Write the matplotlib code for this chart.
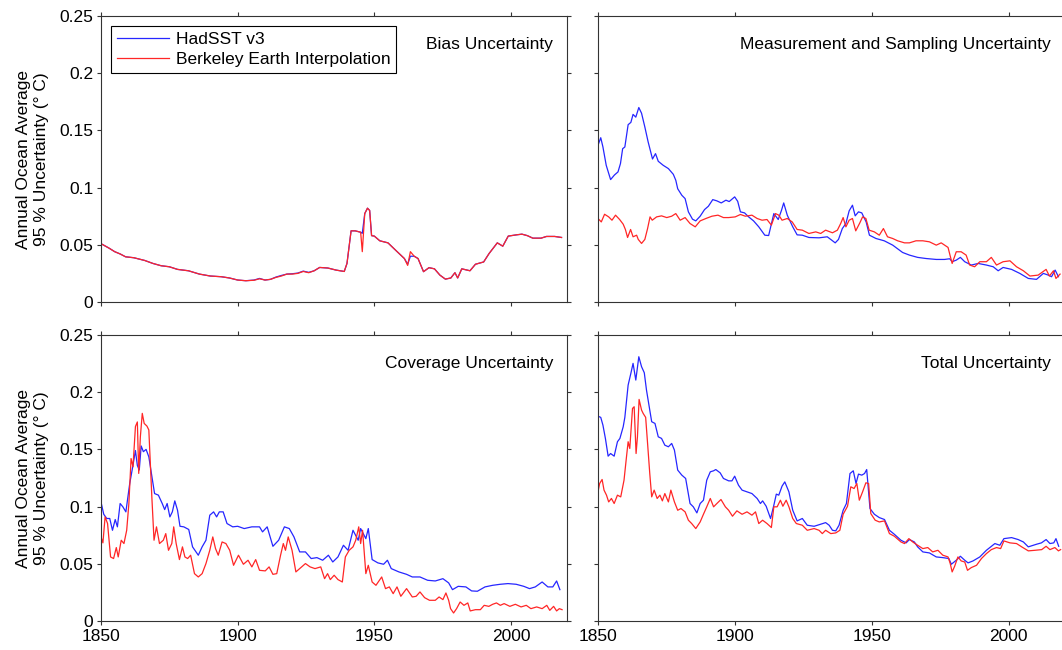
import matplotlib
matplotlib.use("Agg")
import matplotlib.pyplot as plt

plt.rcParams['font.family'] = ['Liberation Sans', 'DejaVu Sans']

# ---- Bias uncertainty (both series almost identical) ----
bias_years = [1850, 1853, 1855, 1857, 1859, 1862, 1866, 1869, 1872, 1875, 1878, 1882, 1886,
              1890, 1894, 1897, 1900, 1903, 1906, 1908, 1910, 1912, 1914, 1916, 1918, 1920,
              1922, 1924, 1926, 1928, 1930, 1933, 1936, 1939, 1940, 1941.5, 1943, 1945,
              1945.6, 1946.5, 1947.5, 1948.3, 1949, 1950, 1952, 1955, 1958, 1961, 1962.2,
              1963.2, 1964.6, 1966, 1968, 1970, 1972, 1974, 1976, 1978, 1979.5, 1980.5,
              1982, 1985, 1987, 1990, 1992, 1995, 1997, 1999, 2002, 2004, 2006, 2008,
              2011, 2013, 2016, 2018.5]
bias_had = [0.051, 0.047, 0.044, 0.042, 0.0395, 0.0387, 0.0363, 0.0337, 0.0317, 0.0308,
            0.0285, 0.0273, 0.0244, 0.0227, 0.0221, 0.021, 0.0192, 0.0186, 0.0192, 0.0206,
            0.0192, 0.0198, 0.0218, 0.0232, 0.0244, 0.0247, 0.0253, 0.0270, 0.0259, 0.0273,
            0.0302, 0.0297, 0.0279, 0.0267, 0.0337, 0.0622, 0.0622, 0.061, 0.0600, 0.0773,
            0.082, 0.080, 0.058, 0.0576, 0.0535, 0.0517, 0.0448, 0.038, 0.033, 0.040, 0.040,
            0.038, 0.0265, 0.030, 0.029, 0.0235, 0.020, 0.021, 0.0256, 0.021, 0.029, 0.0273,
            0.033, 0.035, 0.0424, 0.0517, 0.0488, 0.0576, 0.0587, 0.0593, 0.058, 0.0558,
            0.0558, 0.0573, 0.0573, 0.0564]
bias_be = [0.051, 0.047, 0.044, 0.042, 0.0395, 0.0387, 0.0363, 0.0337, 0.0317, 0.0308,
           0.0285, 0.0273, 0.0244, 0.0227, 0.0221, 0.021, 0.0192, 0.0186, 0.0190, 0.0203,
           0.0192, 0.0198, 0.0215, 0.0227, 0.0244, 0.0244, 0.025, 0.0267, 0.0256, 0.0273,
           0.0302, 0.0297, 0.0279, 0.0267, 0.0337, 0.0622, 0.0622, 0.061, 0.044, 0.0773,
           0.082, 0.080, 0.058, 0.0576, 0.0535, 0.0517, 0.0448, 0.038, 0.032, 0.044, 0.040,
           0.038, 0.0265, 0.030, 0.029, 0.0235, 0.020, 0.021, 0.0256, 0.021, 0.029, 0.0273,
           0.033, 0.035, 0.0424, 0.0517, 0.0488, 0.0576, 0.0587, 0.0593, 0.058, 0.0558,
           0.0558, 0.0573, 0.0573, 0.0564]

# ---- Measurement and sampling uncertainty ----
meas_had_years = [1850, 1851, 1851.8, 1853, 1854.6, 1856, 1857.3, 1858.2, 1859, 1859.8, 1861,
                  1862, 1862.8, 1863.8, 1864.9, 1865.9, 1867.1, 1868.3, 1869.9, 1871, 1872,
                  1873.8, 1875.7, 1877.5, 1878.4, 1879.1, 1880.6, 1881.8, 1883, 1884.5, 1885.7,
                  1887.3, 1888.9, 1890.3, 1891.9, 1893.4, 1895, 1896.7, 1897.9, 1899.9, 1901,
                  1902, 1903.5, 1905, 1906.8, 1908.7, 1910.9, 1912.3, 1914.2, 1915.8, 1917,
                  1917.8, 1919.1, 1921.1, 1922.7, 1924.6, 1927, 1930.7, 1933.7, 1935.3, 1936.6,
                  1937.8, 1939.2, 1940.5, 1941.7, 1942.9, 1943.9, 1945.1, 1946.3, 1947.9,
                  1949.1, 1951.5, 1954.5, 1957.6, 1961.2, 1963.7, 1966.7, 1969.8, 1973.5,
                  1976.5, 1978.4, 1979.3, 1980.8, 1982.3, 1983.9, 1986.3, 1988.8, 1991.8,
                  1994.3, 1996.1, 1997.9, 2001, 2004, 2007.1, 2010.1, 2012.6, 2014.4, 2015.6,
                  2016.9, 2018.1]
meas_had = [0.137, 0.1436, 0.1355, 0.1195, 0.107, 0.111, 0.1137, 0.121, 0.134, 0.1355, 0.155,
            0.157, 0.164, 0.1616, 0.170, 0.165, 0.153, 0.140, 0.125, 0.1297, 0.123, 0.1195,
            0.1166, 0.1116, 0.1064, 0.099, 0.0933, 0.0904, 0.0788, 0.0724, 0.0709, 0.075,
            0.0808, 0.0837, 0.0895, 0.0884, 0.0866, 0.089, 0.0878, 0.0919, 0.088, 0.0788,
            0.0779, 0.0744, 0.0709, 0.0657, 0.0584, 0.0581, 0.0773, 0.0721, 0.0802, 0.0866,
            0.0759, 0.0657, 0.0587, 0.0584, 0.0564, 0.0561, 0.057, 0.0541, 0.0517, 0.0547,
            0.0642, 0.0686, 0.0797, 0.0846, 0.0753, 0.0788, 0.0779, 0.070, 0.0584, 0.0555,
            0.0535, 0.0497, 0.0433, 0.041, 0.039, 0.038, 0.0372, 0.0372, 0.0378, 0.0352,
            0.0366, 0.039, 0.0352, 0.0323, 0.0337, 0.0323, 0.0308, 0.0273, 0.0302, 0.0285,
            0.025, 0.0206, 0.0198, 0.025, 0.0235, 0.0221, 0.0279, 0.0221]
meas_be_years = [1850, 1851.2, 1852.4, 1853.9, 1855.1, 1856.4, 1857.9, 1859.2, 1860, 1860.8,
                 1861.9, 1862.8, 1864.1, 1864.7, 1865.9, 1867.1, 1868.1, 1869, 1869.8, 1871.4,
                 1873.2, 1875.1, 1876.9, 1878.4, 1880, 1881.8, 1883.6, 1885.5, 1887.3, 1889.4,
                 1891.6, 1893.8, 1895.8, 1897.7, 1900.1, 1902, 1903.8, 1906.2, 1908.1, 1909.9,
                 1911.7, 1913.3, 1914.8, 1916, 1917.2, 1919.1, 1920.9, 1922.7, 1924.6, 1927,
                 1929.5, 1931.3, 1933.1, 1935.6, 1937.4, 1938.6, 1939.5, 1940.5, 1941.7,
                 1942.9, 1944.1, 1945.6, 1946.6, 1947.8, 1949, 1950.9, 1952.7, 1954.2, 1955.7,
                 1957.6, 1959.4, 1961.9, 1963.7, 1966.1, 1968.6, 1971, 1973.5, 1975.3, 1977.8,
                 1978.6, 1979.3, 1980.8, 1982.6, 1984.4, 1985.7, 1987.5, 1989.4, 1991.8,
                 1993.6, 1995.5, 1997.9, 2000.4, 2002.8, 2005.3, 2007.7, 2010.7, 2013.6,
                 2014.8, 2016.3, 2017.2, 2018.7]
meas_be = [0.073, 0.070, 0.0767, 0.0744, 0.0715, 0.0759, 0.0721, 0.068, 0.0634, 0.0564,
           0.0634, 0.057, 0.0584, 0.0547, 0.0512, 0.0547, 0.0642, 0.0744, 0.0715, 0.0744,
           0.0753, 0.0738, 0.075, 0.0773, 0.0715, 0.0738, 0.0686, 0.0657, 0.0709, 0.073,
           0.075, 0.0759, 0.0738, 0.0738, 0.0744, 0.0765, 0.075, 0.0759, 0.073, 0.0715,
           0.0721, 0.0672, 0.0773, 0.0759, 0.0715, 0.073, 0.070, 0.0634, 0.0628, 0.0599,
           0.0613, 0.0599, 0.0628, 0.0605, 0.0628, 0.0686, 0.0738, 0.0657, 0.0715, 0.073,
           0.0622, 0.0692, 0.0744, 0.073, 0.0628, 0.0613, 0.0584, 0.0642, 0.057, 0.0555,
           0.0535, 0.0517, 0.0517, 0.0535, 0.0535, 0.0526, 0.0497, 0.0517, 0.0477, 0.0401,
           0.0337, 0.0439, 0.0439, 0.041, 0.0323, 0.0308, 0.0352, 0.0352, 0.039, 0.0323,
           0.0352, 0.036, 0.0308, 0.0273, 0.0227, 0.0235, 0.0285, 0.0227, 0.0273, 0.0206,
           0.0244]

# ---- Coverage uncertainty ----
cov_had_years = [1850, 1851, 1852.1, 1853.2, 1854.2, 1855.2, 1856, 1857, 1858, 1859.1, 1860.5,
                 1861.6, 1862.6, 1863.3, 1864, 1864.7, 1865.5, 1866.5, 1867.5, 1868.6, 1869.6,
                 1871, 1872.4, 1873.3, 1874.2, 1875.2, 1876.1, 1877, 1878, 1878.9, 1880.3,
                 1882.1, 1883.5, 1885.6, 1887, 1888.4, 1889.8, 1891.2, 1892.3, 1893.3, 1894.7,
                 1896.1, 1898.2, 1900, 1902.4, 1905.2, 1908, 1909.1, 1910.8, 1912.9, 1915,
                 1917.1, 1918.9, 1920.6, 1922.7, 1924.8, 1926.9, 1929, 1931.1, 1933.2, 1934.8,
                 1936.7, 1938.7, 1940.4, 1942.2, 1944.1, 1945, 1946.9, 1947.8, 1949.2, 1951.3,
                 1953.4, 1954.8, 1956.2, 1959, 1961.8, 1963.9, 1966.7, 1969.5, 1972.3, 1975.1,
                 1977.2, 1978.6, 1980.7, 1983.5, 1985.6, 1987.7, 1990.5, 1993.3, 1996.1, 1998.9,
                 2001.9, 2004.7, 2006.8, 2008.9, 2011.4, 2013.5, 2015.3, 2016.7, 2017.9]
cov_had = [0.104, 0.0933, 0.0896, 0.0896, 0.0793, 0.0887, 0.0823, 0.1027, 0.0998, 0.0954,
           0.120, 0.1348, 0.149, 0.136, 0.132, 0.153, 0.148, 0.150, 0.1435, 0.1266, 0.1114,
           0.110, 0.1027, 0.0974, 0.1027, 0.091, 0.0954, 0.105, 0.0968, 0.0828, 0.0823, 0.080,
           0.0648, 0.0575, 0.0648, 0.0706, 0.0925, 0.0954, 0.091, 0.0954, 0.0954, 0.0852,
           0.0823, 0.0828, 0.0808, 0.0823, 0.0823, 0.0779, 0.0823, 0.0653, 0.0706, 0.0823,
           0.0808, 0.0735, 0.0604, 0.0604, 0.0546, 0.0554, 0.0531, 0.0575, 0.0516, 0.056,
           0.0662, 0.0618, 0.0793, 0.0706, 0.0808, 0.072, 0.0808, 0.0537, 0.0508, 0.0496,
           0.0531, 0.0458, 0.0429, 0.0408, 0.0385, 0.0385, 0.0356, 0.035, 0.037, 0.0333,
           0.0274, 0.0303, 0.0298, 0.0263, 0.026, 0.0298, 0.0312, 0.0321, 0.0327, 0.0321,
           0.0303, 0.0283, 0.0298, 0.0341, 0.0298, 0.0298, 0.035, 0.0274]
cov_be_years = [1850, 1850.7, 1851.5, 1852.4, 1853.5, 1854.6, 1855.6, 1856.3, 1857.4, 1858.4,
                1859.4, 1860.2, 1861, 1861.7, 1862.6, 1863.3, 1863.8, 1864.4, 1865.1, 1865.8,
                1866.8, 1867.5, 1868.6, 1869.4, 1870.3, 1871.4, 1872.8, 1873.7, 1874.7, 1875.9,
                1876.6, 1877.5, 1878.7, 1879.8, 1880.7, 1881.7, 1882.8, 1884.2, 1885.6, 1887,
                1888.4, 1889.8, 1890.9, 1891.9, 1892.9, 1894.3, 1895.7, 1897.1, 1898.5, 1900.3,
                1902.1, 1903.8, 1905.2, 1906.6, 1908, 1910.1, 1911.5, 1912.9, 1914.3, 1915.7,
                1916.7, 1917.5, 1918.5, 1919.9, 1921.3, 1923.4, 1924.8, 1926.5, 1928.3, 1930.4,
                1931.8, 1932.9, 1933.9, 1935.3, 1936.7, 1938.3, 1939.4, 1940.8, 1942.2, 1943.2,
                1944.3, 1945, 1945.7, 1946.9, 1947.8, 1949.2, 1950.6, 1952.7, 1954.1, 1955.5,
                1956.9, 1958.3, 1959.7, 1961.8, 1963.9, 1965.3, 1966.7, 1968.4, 1970.2, 1972.3,
                1973.7, 1975.1, 1976.2, 1977.2, 1977.9, 1979, 1980.1, 1981.4, 1982.8, 1984.2,
                1985.1, 1987, 1988.8, 1990.2, 1991.9, 1993.3, 1994.7, 1996.1, 1997.5, 1999.6,
                2001.6, 2003.7, 2005.6, 2007.3, 2009.4, 2011.4, 2013.1, 2014.2, 2015.6, 2016.7,
                2017.7, 2018.7]
cov_be = [0.0735, 0.0683, 0.091, 0.0852, 0.056, 0.0546, 0.0642, 0.056, 0.0706, 0.0677, 0.0793,
          0.1027, 0.142, 0.1348, 0.170, 0.174, 0.129, 0.161, 0.1815, 0.1727, 0.1704, 0.167,
          0.1085, 0.0706, 0.0823, 0.0677, 0.0706, 0.0764, 0.0618, 0.0677, 0.0823, 0.0677,
          0.0537, 0.0648, 0.056, 0.0546, 0.0575, 0.0414, 0.0385, 0.0414, 0.0502, 0.0618,
          0.0735, 0.0633, 0.0575, 0.0691, 0.0677, 0.0618, 0.0487, 0.0575, 0.0496, 0.0531,
          0.0473, 0.0537, 0.0443, 0.0438, 0.0473, 0.0408, 0.0414, 0.0575, 0.0677, 0.0618,
          0.0735, 0.0618, 0.0429, 0.0473, 0.0502, 0.0473, 0.0458, 0.0473, 0.037, 0.0414,
          0.0362, 0.04, 0.0362, 0.0341, 0.056, 0.0618, 0.0648, 0.0706, 0.0823, 0.0677, 0.0793,
          0.0414, 0.0487, 0.0341, 0.0312, 0.0385, 0.0283, 0.0298, 0.0239, 0.0298, 0.0216,
          0.0283, 0.021, 0.0216, 0.0254, 0.0204, 0.0181, 0.0181, 0.021, 0.0187, 0.0245, 0.0181,
          0.0108, 0.007, 0.0108, 0.0166, 0.0137, 0.0158, 0.0088, 0.0099, 0.0099, 0.0137,
          0.0128, 0.0146, 0.0158, 0.0137, 0.0152, 0.0128, 0.0146, 0.0123, 0.0137, 0.0108,
          0.0123, 0.0108, 0.0137, 0.0093, 0.0128, 0.0088, 0.0108, 0.0099]

# ---- Total uncertainty ----
tot_had_years = [1850, 1851, 1851.8, 1852.7, 1853.7, 1854.6, 1855.9, 1857.1, 1858, 1859.2,
                 1859.8, 1861, 1862, 1862.8, 1863.8, 1864.9, 1865.9, 1866.9, 1867.7, 1868.7,
                 1869.6, 1870.8, 1872, 1873.2, 1874.4, 1875.7, 1876.9, 1877.9, 1879.1, 1880.6,
                 1882, 1883.6, 1884.8, 1886.1, 1887.3, 1888.5, 1889.7, 1891, 1892.2, 1893,
                 1894.6, 1895.8, 1897.7, 1898.9, 1899.9, 1901.3, 1902.6, 1904.4, 1906.2, 1908.1,
                 1909.3, 1910.1, 1911.4, 1913, 1914.2, 1915.1, 1916, 1917.2, 1918.2, 1919.7,
                 1921.1, 1922.7, 1924.6, 1926.4, 1928.9, 1931.3, 1933.1, 1934.4, 1935.6, 1936.8,
                 1938, 1939.5, 1940.7, 1942, 1943.2, 1944.2, 1945.1, 1946.3, 1947.3, 1948.1,
                 1949.3, 1950.9, 1952.7, 1954.6, 1956.4, 1958.2, 1960.6, 1962.5, 1963.7, 1965.5,
                 1966.7, 1968.6, 1971, 1973.5, 1975.9, 1978.1, 1979, 1980.8, 1982.3, 1983.9,
                 1985.1, 1986.9, 1989.4, 1991.8, 1994.9, 1996.7, 1998.2, 2001, 2003.4, 2005.3,
                 2007.1, 2010.1, 2011.9, 2013.6, 2015, 2016.4, 2017.2, 2018.2]
tot_had = [0.179, 0.178, 0.1712, 0.1596, 0.1441, 0.1464, 0.1441, 0.1567, 0.1596, 0.1698,
           0.178, 0.2062, 0.2165, 0.2252, 0.2106, 0.231, 0.2223, 0.217, 0.2019, 0.1873, 0.1742,
           0.1727, 0.161, 0.1596, 0.1537, 0.1523, 0.1552, 0.1494, 0.1319, 0.1275, 0.1246,
           0.1027, 0.0998, 0.0945, 0.1027, 0.1056, 0.1231, 0.1304, 0.1313, 0.1324, 0.1295,
           0.1246, 0.1225, 0.1225, 0.1266, 0.1187, 0.1144, 0.1129, 0.1114, 0.1071, 0.1027,
           0.105, 0.1003, 0.0896, 0.1012, 0.1109, 0.11, 0.1179, 0.1216, 0.1129, 0.0968, 0.0875,
           0.0896, 0.0837, 0.0828, 0.0846, 0.086, 0.0837, 0.0793, 0.0788, 0.0837, 0.0968,
           0.1027, 0.1289, 0.1313, 0.1202, 0.1284, 0.1275, 0.1289, 0.1324, 0.0983, 0.0933,
           0.0904, 0.0887, 0.0793, 0.0758, 0.0706, 0.0683, 0.0712, 0.0691, 0.0648, 0.0604,
           0.0595, 0.056, 0.0554, 0.0546, 0.0496, 0.0531, 0.0566, 0.0531, 0.0508, 0.0525,
           0.056, 0.0618, 0.0677, 0.0662, 0.072, 0.0729, 0.0712, 0.0691, 0.0648, 0.0671,
           0.0683, 0.0712, 0.0677, 0.0683, 0.072, 0.0653]
tot_be_years = [1850, 1850.6, 1851.5, 1852.2, 1853.1, 1853.9, 1854.9, 1855.9, 1857.1, 1858.3,
                1859.5, 1860.4, 1861, 1861.6, 1862.6, 1863.2, 1863.9, 1864.4, 1865, 1865.9,
                1866.5, 1867.4, 1868.1, 1868.9, 1869.6, 1870.5, 1871.6, 1872.6, 1873.5, 1874.4,
                1875.7, 1876.6, 1877.9, 1879.1, 1880.3, 1881.8, 1883, 1884.2, 1885.7, 1887.3,
                1888.5, 1889.7, 1891, 1892.2, 1893.4, 1894.9, 1896.5, 1897.7, 1899.1, 1900.7,
                1902.6, 1904.4, 1906.2, 1907.5, 1908.7, 1910.1, 1911.7, 1913.3, 1914.2, 1915.4,
                1916.6, 1917.5, 1918.7, 1919.7, 1921.1, 1922.4, 1924.6, 1926.4, 1928.9, 1930.7,
                1931.9, 1933.1, 1935, 1936.8, 1938.3, 1939.5, 1941.1, 1942.3, 1943.5, 1944.5,
                1945.4, 1946.6, 1947.8, 1948.8, 1949.6, 1951.2, 1952.7, 1954.6, 1956.4, 1958.2,
                1960.6, 1961.9, 1963.5, 1964.9, 1966.7, 1968.6, 1970.4, 1972.2, 1974.1, 1975.9,
                1977.8, 1978.6, 1979.3, 1980.2, 1981.4, 1982.6, 1983.9, 1984.9, 1986.3, 1988.2,
                1990, 1991.8, 1993.6, 1995.5, 1997, 1998.2, 2000.4, 2002.8, 2004.7, 2007.1,
                2009.5, 2012, 2013.6, 2015, 2016.8, 2018.1, 2018.9]
tot_be = [0.1129, 0.1202, 0.1237, 0.1144, 0.11, 0.1041, 0.1071, 0.1027, 0.11, 0.1085, 0.1231,
          0.1435, 0.1567, 0.1508, 0.1858, 0.1873, 0.1464, 0.161, 0.1937, 0.1844, 0.1814, 0.178,
          0.1552, 0.1289, 0.1085, 0.1144, 0.1071, 0.11, 0.105, 0.1114, 0.1041, 0.1144, 0.1041,
          0.0968, 0.0983, 0.0954, 0.0881, 0.0852, 0.0808, 0.0866, 0.0933, 0.0998, 0.1071,
          0.0998, 0.1027, 0.1062, 0.0998, 0.0968, 0.0916, 0.0963, 0.0933, 0.0954, 0.0925,
          0.0954, 0.0852, 0.0881, 0.0852, 0.0817, 0.0998, 0.0998, 0.1056, 0.1003, 0.1056,
          0.0998, 0.0896, 0.0852, 0.0837, 0.0793, 0.0808, 0.0793, 0.0764, 0.0793, 0.0764,
          0.077, 0.0793, 0.0933, 0.1003, 0.1173, 0.1158, 0.1202, 0.1056, 0.1129, 0.1208,
          0.1202, 0.0939, 0.0881, 0.0866, 0.0875, 0.0764, 0.0741, 0.0691, 0.0677, 0.072,
          0.0691, 0.0662, 0.0633, 0.0642, 0.0604, 0.0618, 0.0575, 0.056, 0.0502, 0.0429,
          0.0478, 0.056, 0.0525, 0.0516, 0.0443, 0.0467, 0.0487, 0.0546, 0.0589, 0.0624,
          0.0642, 0.0633, 0.07, 0.0683, 0.0677, 0.0648, 0.0613, 0.0618, 0.0624, 0.0653,
          0.0624, 0.0642, 0.0613, 0.0624]

panels = [
    ("Bias Uncertainty", bias_years, bias_had, bias_years, bias_be),
    ("Measurement and Sampling Uncertainty", meas_had_years, meas_had, meas_be_years, meas_be),
    ("Coverage Uncertainty", cov_had_years, cov_had, cov_be_years, cov_be),
    ("Total Uncertainty", tot_had_years, tot_had, tot_be_years, tot_be),
]

W, H = 1062, 650
fig = plt.figure(figsize=(W / 100, H / 100), dpi=100)

# axes rectangles in pixels: (left, top, right, bottom)
rects = [(101, 16, 567, 302), (598, 16, 1065, 302),
         (101, 335, 567, 621), (598, 335, 1065, 621)]

spine_col = '#333333'
fs = 12.5
for i, (title, hy, hv, by, bv) in enumerate(panels):
    l, t, r, b = rects[i]
    ax = fig.add_axes([l / W, 1 - b / H, (r - l) / W, (b - t) / H])
    ax.plot(hy, hv, color='#2626ff', lw=0.9, label='HadSST v3')
    ax.plot(by, bv, color='#ff2626', lw=0.9, label='Berkeley Earth Interpolation')
    ax.set_xlim(1850, 2020.5)
    ax.set_ylim(0, 0.25)
    ax.set_xticks([1850, 1900, 1950, 2000])
    ax.set_yticks([0, 0.05, 0.1, 0.15, 0.2, 0.25])
    ax.set_yticklabels(['0', '0.05', '0.1', '0.15', '0.2', '0.25'])
    ax.tick_params(direction='out', length=2.6, width=0.8, color=spine_col,
                   top=True, right=True, labelsize=fs, pad=3)
    ax.tick_params(axis='x', pad=3)
    for s in ax.spines.values():
        s.set_color(spine_col)
        s.set_linewidth(0.8)
    if i % 2 == 1:
        ax.tick_params(labelleft=False)
    else:
        ax.set_ylabel('Annual Ocean Average\n95 % Uncertainty (° C)', fontsize=fs,
                      linespacing=1.2)
        ax.yaxis.set_label_coords(-0.112, 0.5)
    if i < 2:
        ax.tick_params(labelbottom=False)
    ax.text(0.97, 0.9, title, transform=ax.transAxes, ha='right', va='center', fontsize=fs)
    if i == 0:
        leg = ax.legend(loc='upper left', fontsize=fs, handlelength=3.0, handletextpad=0.4,
                        labelspacing=0.3, borderaxespad=0.55, borderpad=0.35,
                        fancybox=False, framealpha=1, edgecolor='black')
        leg.get_frame().set_linewidth(0.8)

fig.savefig('out.png', dpi=100)
